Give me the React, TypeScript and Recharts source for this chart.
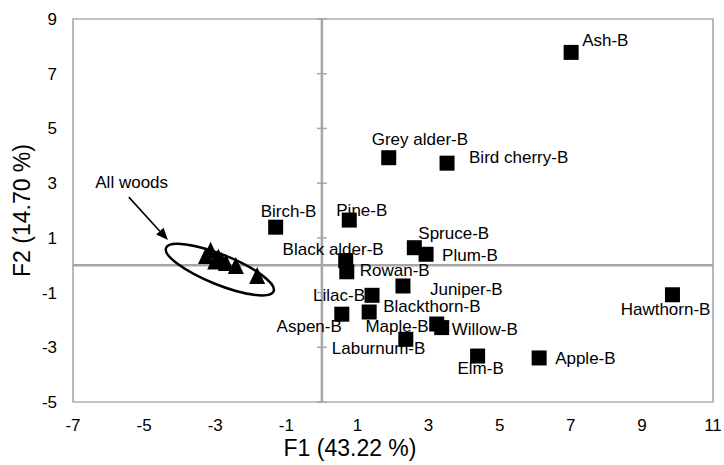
import React from 'react';
import {
  ScatterChart, Scatter, XAxis, YAxis, ZAxis, ReferenceLine, ReferenceArea, ReferenceDot, LabelList, Label,
} from 'recharts';

// ---- data ----
const barkNames = [
  'Ash-B', 'Grey alder-B', 'Bird cherry-B', 'Birch-B', 'Pine-B', 'Black alder-B', 'Rowan-B',
  'Spruce-B', 'Plum-B', 'Juniper-B', 'Lilac-B', 'Aspen-B', 'Blackthorn-B', 'Maple-B',
  'Willow-B', 'Laburnum-B', 'Elm-B', 'Apple-B', 'Hawthorn-B',
];
const barkF1 = [7.01, 1.88, 3.52, -1.30, 0.77, 0.67, 0.70, 2.60, 2.93, 2.28, 1.41, 0.56, 1.33, 3.23, 3.37, 2.36, 4.38, 6.11, 9.86];
const barkF2 = [7.78, 3.93, 3.73, 1.39, 1.65, 0.17, -0.24, 0.64, 0.40, -0.76, -1.10, -1.79, -1.71, -2.15, -2.28, -2.71, -3.32, -3.39, -1.08];

const woodF1 = [-3.13, -3.26, -2.91, -2.82, -2.42, -1.82, -3.0, -2.7];
const woodF2 = [0.44, 0.25, 0.19, 0.07, -0.11, -0.48, 0.05, 0.0];

const xTicks = [-7, -5, -3, -1, 1, 3, 5, 7, 9, 11];
const yTicks = [-5, -3, -1, 1, 3, 5, 7, 9];
const xDomain = [-7, 11];
const yDomain = [-5, 9];

const groupLabel = 'All woods';
const groupLabelPos = { x: -5.35, y: 3.04 };
const arrowFrom = { x: -5.43, y: 2.49 };
const arrowTo = { x: -4.33, y: 0.92 };
const ellipseCenter = { x: -2.87, y: -0.16 };

const xTitle = 'F1 (43.22 %)';
const yTitle = 'F2 (14.70 %)';

if (typeof document !== 'undefined') {
  document.body.style.margin = '0';
  document.body.style.overflow = 'hidden';
}

// ---- styles ----
const FONT = '"Liberation Sans", Arial, sans-serif';
const labelPlacement: Record<string, { a: string; dx: number; dy: number }> = {
  'Ash-B': { a: 'start', dx: 11, dy: -12 },
  'Grey alder-B': { a: 'start', dx: -17, dy: -18 },
  'Bird cherry-B': { a: 'start', dx: 22, dy: -6 },
  'Birch-B': { a: 'start', dx: -15, dy: -16 },
  'Pine-B': { a: 'start', dx: -13, dy: -10 },
  'Black alder-B': { a: 'end', dx: 38, dy: -11 },
  'Rowan-B': { a: 'start', dx: 13, dy: -1 },
  'Spruce-B': { a: 'start', dx: 4, dy: -14 },
  'Plum-B': { a: 'start', dx: 16, dy: 1 },
  'Juniper-B': { a: 'start', dx: 27, dy: 3 },
  'Lilac-B': { a: 'end', dx: -7, dy: 0 },
  'Aspen-B': { a: 'end', dx: 0, dy: 12 },
  'Blackthorn-B': { a: 'start', dx: 14, dy: -5 },
  'Maple-B': { a: 'end', dx: -8, dy: 2 },
  'Willow-B': { a: 'start', dx: 10, dy: 2 },
  'Laburnum-B': { a: 'start', dx: -74, dy: 9 },
  'Elm-B': { a: 'middle', dx: 3, dy: 12 },
  'Apple-B': { a: 'start', dx: 16, dy: 1 },
  'Hawthorn-B': { a: 'end', dx: 38, dy: 15 },
};

const barkData = barkNames.map((name, i) => ({ name, x: barkF1[i], y: barkF2[i] }));
const woodData = woodF1.map((x, i) => ({ x, y: woodF2[i] }));

const SquareShape = (p: any) => {
  const s = 15;
  return <rect x={p.cx - s / 2} y={p.cy - s / 2} width={s} height={s} fill="#000" />;
};
const TriangleShape = (p: any) => {
  const w = 16, h = 17;
  const top = p.cy - (2 * h) / 3;
  const bot = p.cy + h / 3;
  return <polygon points={`${p.cx},${top} ${p.cx - w / 2},${bot} ${p.cx + w / 2},${bot}`} fill="#000" />;
};

const PointLabel = (p: any) => {
  const name = barkNames[p.index];
  const pl = labelPlacement[name] || { a: 'start', dx: 10, dy: 0 };
  const cx = p.x + (p.width || 0) / 2;
  const cy = p.y + (p.height || 0) / 2;
  return (
    <text x={cx + pl.dx} y={cy + pl.dy} textAnchor={pl.a} dominantBaseline="central"
      fontFamily={FONT} fontSize={17} fill="#000">{name}</text>
  );
};

const EllipseShape = (p: any) => (
  <ellipse cx={p.cx} cy={p.cy} rx={58} ry={15} fill="none" stroke="#000" strokeWidth={2.5}
    transform={`rotate(22 ${p.cx} ${p.cy})`} />
);

const ArrowShape = (p: any) => {
  const { x1, y1, x2, y2 } = p;
  const ang = Math.atan2(y2 - y1, x2 - x1);
  const L = 12, W = 5;
  const bx = x2 - L * Math.cos(ang), by = y2 - L * Math.sin(ang);
  const px = -Math.sin(ang) * W, py = Math.cos(ang) * W;
  return (
    <g>
      <line x1={x1} y1={y1} x2={bx} y2={by} stroke="#000" strokeWidth={1.6} />
      <polygon points={`${x2},${y2} ${bx + px},${by + py} ${bx - px},${by - py}`} fill="#000" />
    </g>
  );
};

const tickStyle = { fontFamily: FONT, fontSize: 17, fill: '#000' };
const yTickHalf = 0.14;

export default function App() {
  return (
    <ScatterChart width={724} height={465} margin={{ top: 19, right: 11, bottom: 0, left: 8 }}
      style={{ fontFamily: FONT, overflow: 'visible' }}>
      <XAxis type="number" dataKey="x" domain={xDomain} ticks={xTicks} allowDataOverflow
        axisLine={false} tickLine={false} tickSize={0} tickMargin={17} height={63} tick={tickStyle}
        interval={0}>
        <Label content={(props: any) => {
          const vb = props.viewBox;
          return (
            <text x={vb.x + vb.width / 2 - 43} y={vb.y + 46} textAnchor="middle" dominantBaseline="central"
              fontFamily={FONT} fontSize={23} fill="#000">{xTitle}</text>
          );
        }} />
      </XAxis>
      <YAxis type="number" dataKey="y" domain={yDomain} ticks={yTicks} allowDataOverflow
        axisLine={false} tickLine={false} tickSize={0} tickMargin={16} width={65} tick={tickStyle}
        interval={0}>
        <Label content={(props: any) => {
          const vb = props.viewBox;
          const cx = vb.x + 14, cy = vb.y + vb.height / 2;
          return (
            <text x={cx} y={cy} textAnchor="middle" dominantBaseline="central" transform={`rotate(-90 ${cx} ${cy})`}
              fontFamily={FONT} fontSize={23} fill="#000">{yTitle}</text>
          );
        }} />
      </YAxis>
      <ZAxis range={[225, 225]} />
      <ReferenceArea x1={xDomain[0]} x2={xDomain[1]} y1={yDomain[0]} y2={yDomain[1]}
        fill="none" fillOpacity={0} stroke="#8a8a8a" strokeWidth={1.2} />
      <ReferenceLine x={0} stroke="#a6a6a6" strokeWidth={2.5} />
      <ReferenceLine y={0} stroke="#a6a6a6" strokeWidth={2.5} />
      {yTicks.map((t) => (
        <ReferenceLine key={t} segment={[{ x: -yTickHalf, y: t }, { x: yTickHalf, y: t }]}
          stroke="#a6a6a6" strokeWidth={1.5} ifOverflow="visible" />
      ))}
      <ReferenceDot x={ellipseCenter.x} y={ellipseCenter.y} r={1} shape={EllipseShape} ifOverflow="visible" />
      <ReferenceLine segment={[arrowFrom, arrowTo]} shape={ArrowShape} ifOverflow="visible" />
      <ReferenceDot x={groupLabelPos.x} y={groupLabelPos.y} r={0} fillOpacity={0} strokeOpacity={0}
        label={{ value: groupLabel, position: 'center', fontFamily: FONT, fontSize: 17, fill: '#000' }} />
      <Scatter data={woodData} shape={TriangleShape} isAnimationActive={false} />
      <Scatter data={barkData} shape={SquareShape} isAnimationActive={false}>
        <LabelList dataKey="name" content={PointLabel} />
      </Scatter>
    </ScatterChart>
  );
}
